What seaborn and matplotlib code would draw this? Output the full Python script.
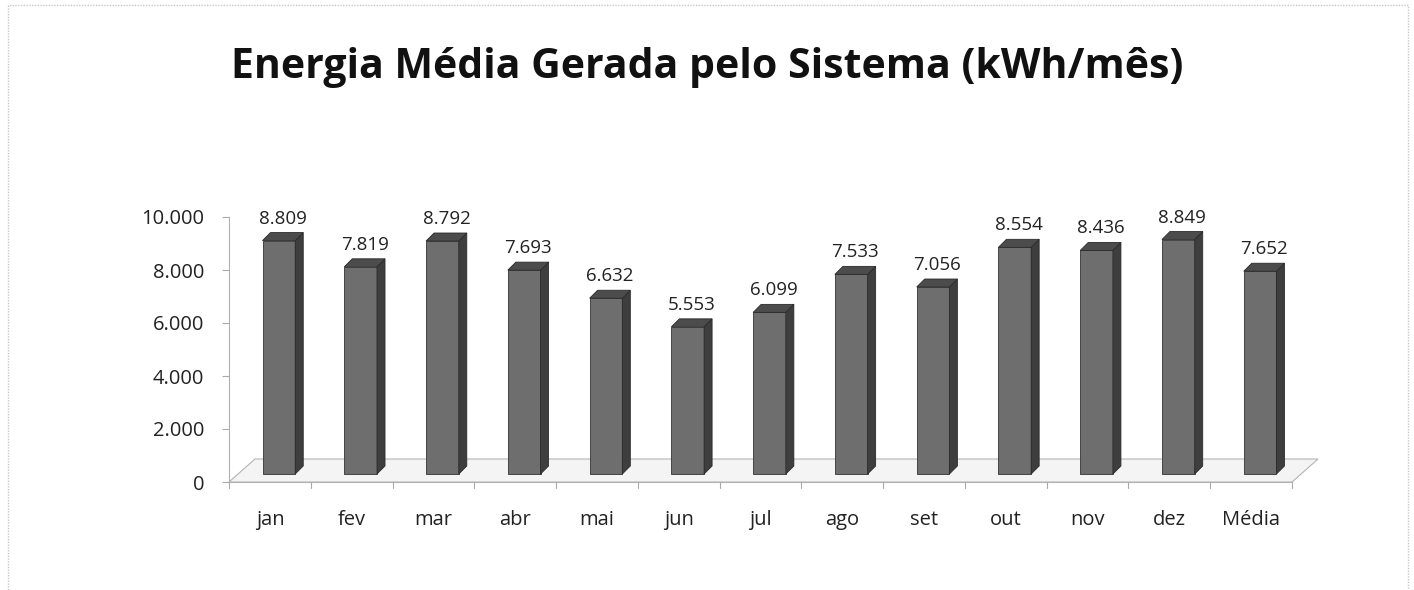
import matplotlib
matplotlib.use("Agg")
import matplotlib.pyplot as plt
import matplotlib.patches as mpatches
import seaborn as sns
import pandas as pd
import numpy as np

categories = ["jan", "fev", "mar", "abr", "mai", "jun", "jul", "ago", "set", "out", "nov", "dez", "Média"]
values = [8809, 7819, 8792, 7693, 6632, 5553, 6099, 7533, 7056, 8554, 8436, 8849, 7652]
yticks = [0, 2000, 4000, 6000, 8000, 10000]
title = "Energia Média Gerada pelo Sistema (kWh/mês)"

def fmt(v):
    return f"{v:,}".replace(",", ".")

sns.set_theme(style="white")
plt.rcParams["font.family"] = ["Open Sans", "DejaVu Sans"]

W, H = 1414, 590
fig = plt.figure(figsize=(W / 100, H / 100), dpi=100)
fig.patch.set_facecolor("white")

# chart border
fig.add_artist(mpatches.Rectangle((8 / W, -0.02), (1408 - 8) / W, (H - 5) / H + 0.02,
                                  transform=fig.transFigure, fill=False,
                                  edgecolor="#c8c8c8", lw=1.0, ls=(0, (1, 1))))

ax = fig.add_axes([229 / W, (H - 482) / H, (1292 - 229) / W, (482 - 217) / H])
df = pd.DataFrame({"cat": categories, "val": values})
sns.barplot(data=df, x="cat", y="val", ax=ax, color="#6e6e6e", width=0.40,
            saturation=1, edgecolor="#3a3a3a", linewidth=0.6, zorder=3)
ax.set_ylim(0, 10000)
ax.set_xlim(-0.5, len(categories) - 0.5)
ax.set_xlabel("")
ax.set_ylabel("")
ax.set_yticks(yticks)
ax.set_yticklabels([fmt(t) for t in yticks], fontsize=14.5, color="#222222")
ax.set_xticks(range(len(categories)))
ax.set_xticklabels(categories, fontsize=14.5, color="#222222")
ax.tick_params(axis="x", length=0, pad=20)
ax.tick_params(axis="y", length=5, width=0.8, color="#aaaaaa", direction="out", pad=13, left=True)
for s in ["top", "right"]:
    ax.spines[s].set_visible(False)
ax.spines["left"].set_color("#b0b0b0")
ax.spines["bottom"].set_color("#b0b0b0")
ax.spines["left"].set_linewidth(0.8)
ax.spines["bottom"].set_linewidth(0.8)
ax.patch.set_alpha(0)

fig.canvas.draw()
to_disp = ax.transData
# x-axis boundary ticks (between categories)
for k in range(len(categories) + 1):
    x0, y0 = to_disp.transform((k - 0.5, 0))
    fig.add_artist(plt.Line2D([x0 / W, x0 / W], [y0 / H, (y0 - 6) / H], transform=fig.transFigure,
                              color="#aaaaaa", lw=0.8))

# floor parallelogram
fx0, fy0 = to_disp.transform((-0.5, 0))
fx1, fy1 = to_disp.transform((len(categories) - 0.5, 0))
fdx, fdy = 26, 23
floor = mpatches.Polygon([(fx0, fy0), (fx1, fy1), (fx1 + fdx, fy1 + fdy), (fx0 + fdx, fy0 + fdy)],
                         closed=True, transform=None, facecolor="#f4f4f4",
                         edgecolor="#b4b4b4", lw=0.8, zorder=1)
fig.add_artist(floor)

# 3D bars: shift front faces and draw side/top faces
front_dx, front_dy = 9, 8
bdx, bdy = 8, 8
for p, v in zip(ax.patches, values):
    x = p.get_x()
    w = p.get_width()
    (xl, yb) = to_disp.transform((x, 0))
    (xr, yt) = to_disp.transform((x + w, v))
    xl += front_dx; xr += front_dx; yb += front_dy; yt += front_dy
    p.set_visible(False)
    front = mpatches.Polygon([(xl, yb), (xr, yb), (xr, yt), (xl, yt)], closed=True, transform=None,
                             facecolor="#6e6e6e", edgecolor="#333333", lw=0.6, zorder=5)
    side = mpatches.Polygon([(xr, yb), (xr + bdx, yb + bdy), (xr + bdx, yt + bdy), (xr, yt)],
                            closed=True, transform=None, facecolor="#3e3e3e",
                            edgecolor="#2a2a2a", lw=0.6, zorder=5)
    top = mpatches.Polygon([(xl, yt), (xr, yt), (xr + bdx, yt + bdy), (xl + bdx, yt + bdy)],
                           closed=True, transform=None, facecolor="#4c4c4c",
                           edgecolor="#2a2a2a", lw=0.6, zorder=5)
    for poly in (front, side, top):
        fig.add_artist(poly)
    cx = (xl + xr + bdx) / 2
    fig.text(cx / W, (yt + 22) / H, fmt(v), ha="center", va="center", fontsize=13.5, color="#222222")

fig.text(0.5, (H - 68) / H, title, ha="center", va="center", fontsize=29.5, fontweight="bold",
         color="#111111")

fig.savefig("out.png", dpi=100)
